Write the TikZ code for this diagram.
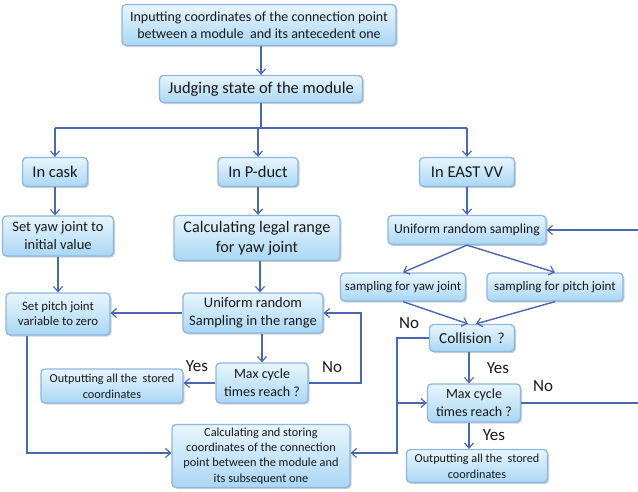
\documentclass[tikz,border=0pt]{standalone}
\usepackage{fontspec}
\setmainfont{Carlito}
\usetikzlibrary{arrows.meta,shadows,calc}
\definecolor{lineblue}{HTML}{4A68B0}
\definecolor{boxtop}{HTML}{E8F5FD}
\definecolor{boxbot}{HTML}{A9D7F4}
\definecolor{boxborder}{HTML}{8DB6E3}
\tikzset{
  box/.style={draw=boxborder, line width=1.3pt, rounded corners=4pt,
    top color=boxtop, bottom color=boxbot, align=center, inner sep=1pt,
    drop shadow={shadow xshift=1.5pt, shadow yshift=-1.5pt, opacity=0.3, fill=black!60},
    text=black!90},
  bw/.style n args={2}{minimum width=#1pt, minimum height=#2pt},
  conn/.style={draw=lineblue, line width=1.4pt},
  arr/.style={conn, -{Straight Barb[length=5pt,width=9pt,line width=1.2pt]}},
  lab/.style={font=\fontsize{17}{19}\selectfont, text=black!90},
}
\begin{document}
\begin{tikzpicture}[x=1pt,y=-1pt]
\useasboundingbox (0,0) rectangle (638,491);
\fill[white] (0,0) rectangle (638,491);
% nodes
\node[box,bw={274}{41},font=\fontsize{14}{17}\selectfont] (top) at (259,25) {Inputting coordinates of the connection point\\between a module \ and its antecedent one};
\node[box,bw={203}{27},font=\fontsize{16.5}{18}\selectfont] (judge) at (261,89) {Judging state of the module};
\node[box,bw={65}{29},font=\fontsize{16.5}{18}\selectfont] (cask) at (55,172) {In cask};
\node[box,bw={80}{29},font=\fontsize{16.5}{18}\selectfont] (pduct) at (258,172) {In P-duct};
\node[box,bw={95}{29},font=\fontsize{16.5}{18}\selectfont] (east) at (467,172) {In EAST VV};
\node[box,bw={111}{40},font=\fontsize{14.5}{18}\selectfont] (setyaw) at (58,236) {Set yaw joint to\\initial value};
\node[box,bw={166}{45},font=\fontsize{16.2}{20}\selectfont] (legal) at (257,238) {Calculating legal range\\for yaw joint};
\node[box,bw={158}{29},font=\fontsize{13.7}{15}\selectfont] (uni) at (467,230) {Uniform random sampling};
\node[box,bw={104}{42},font=\fontsize{12.8}{15}\selectfont] (setpitch) at (58,314) {Set pitch joint\\variable to zero};
\node[box,bw={140}{40},font=\fontsize{14.5}{18}\selectfont] (unirange) at (253,313) {Uniform random\\Sampling in the range};
\node[box,bw={125}{28},font=\fontsize{13}{15}\selectfont] (syaw) at (403,287) {sampling for yaw joint};
\node[box,bw={136}{28},font=\fontsize{13}{15}\selectfont] (spitch) at (555,287) {sampling for pitch joint};
\node[box,bw={85}{27},font=\fontsize{15.4}{17}\selectfont] (coll) at (472,338) {Collision \,?};
\node[box,bw={92}{40},font=\fontsize{14}{18}\selectfont] (max1) at (262,383) {Max cycle\\times reach ?};
\node[box,bw={93}{38},font=\fontsize{14}{18}\selectfont] (max2) at (474,403) {Max cycle\\times reach ?};
\node[box,bw={142}{34},font=\fontsize{12.2}{16}\selectfont] (out1) at (112,386) {Outputting all the \ stored\\coordinates};
\node[box,bw={141}{33},font=\fontsize{12.2}{16}\selectfont] (out2) at (477,466) {Outputting all the \ stored\\coordinates};
\node[box,bw={178}{63},font=\fontsize{12.3}{15.3}\selectfont] (calc) at (261,456) {Calculating and storing\\coordinates of the connection\\point between the module and\\its subsequent one};
% helper coordinates
\coordinate (bus) at (260,128);
\coordinate (nl) at (361,0);
\coordinate (cl) at (397,453);
\coordinate (re1) at (640,403);
\coordinate (re2) at (640,230);
\coordinate (pl) at (27,0);
% connectors
\draw[arr] (top.south -| judge.north) -- (judge.north);
\draw[conn] (judge.south) -- (judge.south |- bus);
\draw[conn] (bus -| cask.north) -- (bus -| east.north);
\draw[arr] (bus -| cask.north) -- (cask.north);
\draw[arr] (bus -| pduct.north) -- (pduct.north);
\draw[arr] (bus -| east.north) -- (east.north);
\draw[arr] (cask.south) -- (cask.south |- setyaw.north);
\draw[arr] (setyaw.south) -- (setyaw.south |- setpitch.north);
\draw[arr] (pduct.south) -- (pduct.south |- legal.north);
\draw[arr] (legal.south -| 260,0) -- (unirange.north -| 260,0);
\draw[arr] (unirange.west) -- (setpitch.east |- unirange.west);
\draw[arr] (unirange.south -| max1.north) -- (max1.north);
\draw[arr] (max1.west) -- (out1.east |- max1.west);
\draw[arr] (max1.east) -- (max1.east -| nl) |- (unirange.east);
\draw[arr] (setpitch.south -| pl) |- (calc.west |- cl);
\draw[arr] (east.south) -- (east.south |- uni.north);
\draw[arr] (uni.south) -- (syaw.north);
\draw[arr] (uni.south) -- (spitch.north);
\draw[arr] (syaw.south) -- ([xshift=-4pt]coll.north);
\draw[arr] (spitch.south) -- ([xshift=4pt]coll.north);
\draw[arr] (coll.west) -| (cl) -- (calc.east |- cl);
\draw[arr] (cl |- max2.west) -- (max2.west);
\draw[arr] (coll.south -| 469,0) -- (max2.north -| 469,0);
\draw[arr] (max2.south -| 469,0) -- (out2.north -| 469,0);
\draw[conn] (max2.east) -- (re1);
\draw[arr] (re2) -- (uni.east);
% labels
\node[lab] (y1) at (197,366) {Yes};
\node[lab] (n1) at (332,367) {No};
\node[lab] (n2) at (409,323) {No};
\node[lab] (y2) at (498,368) {Yes};
\node[lab] (y3) at (494,435) {Yes};
\node[lab] (n3) at (543,386) {No};
\end{tikzpicture}
\end{document}
